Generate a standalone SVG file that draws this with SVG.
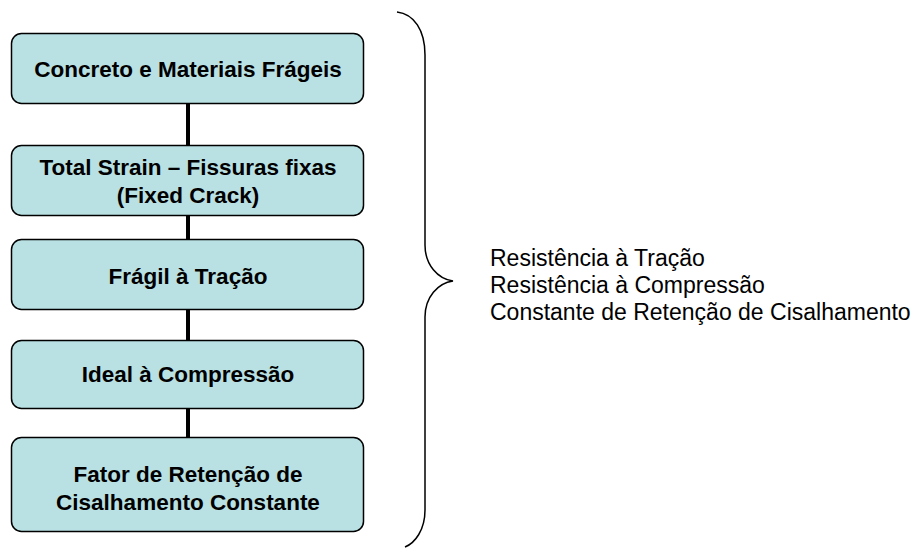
<svg xmlns="http://www.w3.org/2000/svg" width="917" height="548" viewBox="0 0 917 548">
<style>
.box{fill:#b9e0e3;stroke:#000;stroke-width:1.5}
.t{font-family:"Liberation Sans",Arial,sans-serif;font-weight:bold;font-size:22.5px;fill:#000;text-anchor:middle}
.r{font-family:"Liberation Sans",Arial,sans-serif;font-size:23px;fill:#000}
.c{stroke:#000;stroke-width:4;fill:none}
</style>
<rect width="917" height="548" fill="#fff"/>
<g id="connectors">
<line class="c" x1="188" y1="103" x2="188" y2="145"/>
<line class="c" x1="188" y1="215" x2="188" y2="239"/>
<line class="c" x1="188" y1="309" x2="188" y2="340"/>
<line class="c" x1="188" y1="408" x2="188" y2="437"/>
</g>
<g id="n1"><rect class="box" x="11.5" y="33.5" width="352" height="70" rx="10"/><text class="t" x="188" y="77">Concreto e Materiais Frágeis</text></g>
<g id="n2"><rect class="box" x="11.5" y="145.5" width="352" height="70" rx="10"/><text class="t" x="188" y="175">Total Strain – Fissuras fixas</text><text class="t" x="188" y="203">(Fixed Crack)</text></g>
<g id="n3"><rect class="box" x="11.5" y="239.5" width="352" height="70" rx="10"/><text class="t" x="188" y="284">Frágil à Tração</text></g>
<g id="n4"><rect class="box" x="11.5" y="340.5" width="352" height="68" rx="10"/><text class="t" x="188" y="382">Ideal à Compressão</text></g>
<g id="n5"><rect class="box" x="11.5" y="437.5" width="352" height="94" rx="10"/><text class="t" x="188" y="482">Fator de Retenção de</text><text class="t" x="188" y="510">Cisalhamento Constante</text></g>
<g id="brace"><path d="M397,12 C414,14 425,30 425,55 L425,245 C425,265 438,279 453,281 C438,283 425,297 425,317 L425,510 C425,530 415,543 405,547" fill="none" stroke="#000" stroke-width="1.5"/></g>
<g id="list">
<text class="r" x="490" y="266">Resistência à Tração</text>
<text class="r" x="490" y="293">Resistência à Compressão</text>
<text class="r" x="490" y="320">Constante de Retenção de Cisalhamento</text>
</g>
</svg>
